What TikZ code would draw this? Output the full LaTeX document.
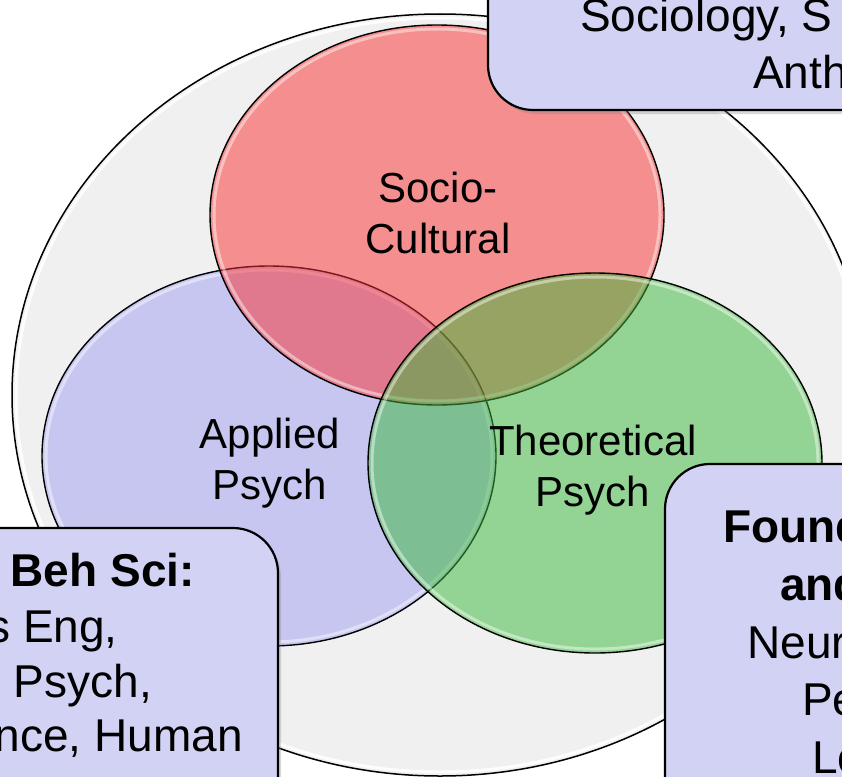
\documentclass[tikz,border=0pt]{standalone}
\usepackage{fontspec}
\setmainfont{Liberation Sans}
\usetikzlibrary{shapes.geometric,shadows}
\definecolor{outerfill}{HTML}{F0F0F0}
\definecolor{redc}{rgb}{0.98,0.18,0.18}
\definecolor{bluec}{rgb}{0.62,0.62,0.94}
\definecolor{greenc}{rgb}{0.22,0.72,0.22}
\definecolor{boxfill}{HTML}{D2D2F4}
\begin{document}
\begin{tikzpicture}[x=1pt,y=-1pt,
  venn/.style={ellipse, draw=black, line width=1.4pt, fill opacity=0.5, minimum width=454pt, minimum height=380pt, inner sep=0pt, outer sep=0pt},
  glow/.style={draw=white, line width=3pt, draw opacity=0.45},
  lbl/.style={font=\fontsize{42}{50}\selectfont, inner sep=0pt, anchor=base},
  infobox/.style={draw=black, line width=2.2pt, fill=boxfill, rounded corners=45pt, inner sep=0pt, drop shadow={shadow xshift=3pt, shadow yshift=-4pt, opacity=0.3}},
  boxtxt/.style={font=\fontsize{46}{55}\selectfont, inner sep=0pt}
]
\useasboundingbox (0,0) rectangle (842,776);
\clip (0,0) rectangle (842,776);
\fill[white] (0,0) rectangle (842,776);
\node[ellipse, draw=black, line width=1.5pt, fill=outerfill, minimum width=856pt, minimum height=762pt, inner sep=0pt] (outer) at (440,395) {};
\draw[glow, draw opacity=0.9] (outer.center) ellipse [x radius=424pt, y radius=377pt];
\node[venn, fill=bluec] (blue) at (269,456) {};
\draw[glow] (blue.center) ellipse [x radius=223pt, y radius=186pt];
\node[venn, fill=redc] (red) at (437,215) {};
\draw[glow] (red.center) ellipse [x radius=223pt, y radius=186pt];
\node[venn, fill=greenc] (green) at (595,463) {};
\draw[glow] (green.center) ellipse [x radius=223pt, y radius=186pt];
\node[lbl] (soc1) at (438,202) {Socio-};
\node[lbl] (soc2) at (438,253) {Cultural};
\node[lbl] (app1) at (270,448) {Applied};
\node[lbl] (app2) at (270,499) {Psych};
\node[lbl] (the1) at (593,455) {Theoretical};
\node[lbl] (the2) at (593,506) {Psych};
\node[infobox, minimum width=512pt, minimum height=210pt] (topbox) at (744,5) {};
\node[infobox, minimum width=478pt, minimum height=372pt] (leftbox) at (39,714) {};
\node[infobox, minimum width=435pt, minimum height=436pt] (rightbox) at (882.5,682) {};
\node[boxtxt, anchor=base west] (t1) at (580,32) {Sociology, S};
\node[boxtxt, anchor=base west] (t2) at (753,88) {Anth};
\node[boxtxt, anchor=base east, font=\fontsize{46}{55}\selectfont\bfseries] (l1) at (195,586) {Beh Sci:};
\node[boxtxt, anchor=base east] (l2) at (118,642) {s Eng,};
\node[boxtxt, anchor=base east] (l3) at (152,697) {Psych,};
\node[boxtxt, anchor=base east] (l4) at (243,751) {nce, Human};
\node[boxtxt, anchor=base west, font=\fontsize{46}{55}\selectfont\bfseries] (r1) at (723,542) {Found};
\node[boxtxt, anchor=base west, font=\fontsize{46}{55}\selectfont\bfseries] (r2) at (780,600) {and};
\node[boxtxt, anchor=base west] (r3) at (747,658) {Neur};
\node[boxtxt, anchor=base west] (r4) at (802,715) {Pe};
\node[boxtxt, anchor=base west] (r5) at (812,773) {Lo};
\end{tikzpicture}
\end{document}
